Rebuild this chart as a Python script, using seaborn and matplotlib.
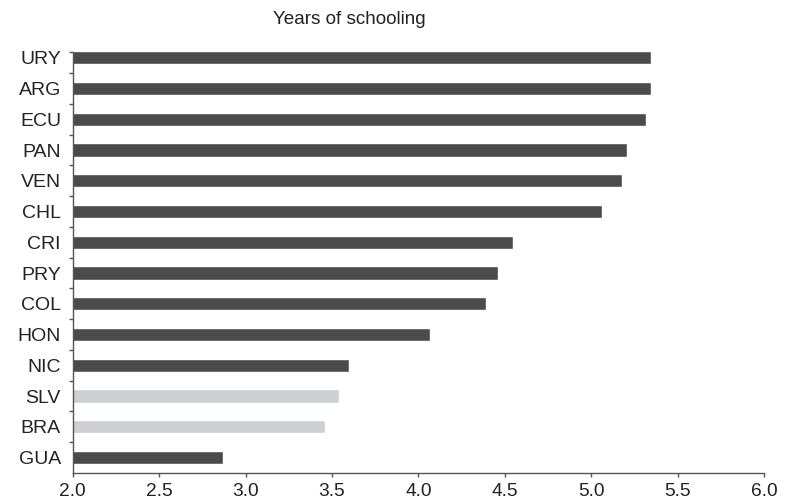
import numpy as np
import pandas as pd
import seaborn as sns
import matplotlib.pyplot as plt

# values
countries = ["URY", "ARG", "ECU", "PAN", "VEN", "CHL", "CRI", "PRY",
             "COL", "HON", "NIC", "SLV", "BRA", "GUA"]
years = [5.345, 5.345, 5.32, 5.21, 5.18, 5.06, 4.55, 4.46,
         4.39, 4.07, 3.60, 3.54, 3.46, 2.87]
group = ["dark"] * 11 + ["light", "light", "dark"]

df = pd.DataFrame({"country": countries, "years": years, "group": group})

sns.set_style("white")
plt.rcParams["font.family"] = ["Liberation Sans", "DejaVu Sans"]

fig = plt.figure(figsize=(7.86, 5.01), dpi=100)
ax = fig.add_axes([0.0925, 0.0559, 0.8795, 0.8411])

sns.barplot(data=df, x="years", y="country", hue="group", orient="h",
            palette={"dark": "#4b4b4d", "light": "#cdd0d3"}, saturation=1,
            dodge=False, width=0.43, legend=False, ax=ax)

ax.set_xlim(2.0, 6.0)
ax.set_ylim(13.5, -0.2)
ax.set_xticks(np.arange(2.0, 6.01, 0.5))
ax.set_xticklabels([f"{v:.1f}" for v in np.arange(2.0, 6.01, 0.5)])
ax.set_yticks([-0.2] + list(np.arange(0.5, 13.0, 1.0)), minor=True)
ax.set_xlabel("")
ax.set_ylabel("")

for side in ["top", "right"]:
    ax.spines[side].set_visible(False)
for side in ["left", "bottom"]:
    ax.spines[side].set_color("#555555")
    ax.spines[side].set_linewidth(1.0)

ax.tick_params(axis="y", which="major", length=0, pad=8.5, labelsize=14, labelcolor="#222222")
ax.tick_params(axis="y", which="minor", length=3, width=1, color="#555555", direction="out", left=True)
ax.tick_params(axis="x", which="major", length=3, width=1, color="#555555", direction="out",
               bottom=True, pad=4.5, labelsize=13.8, labelcolor="#222222")

fig.text(0.444, 0.962, "Years of schooling", ha="center", va="center",
         fontsize=13.6, color="#222222")

fig.savefig("out.png", dpi=100)
